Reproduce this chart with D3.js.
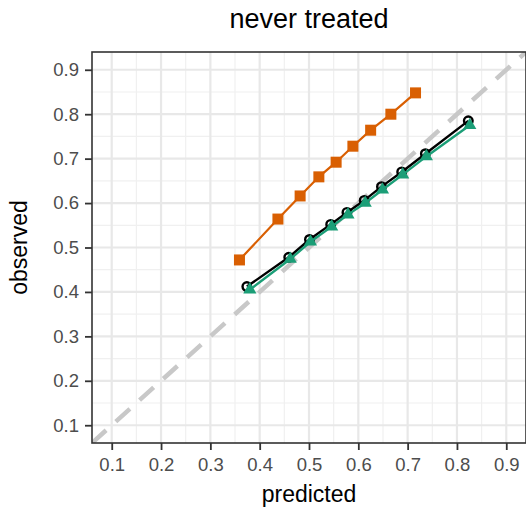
<!DOCTYPE html>
<html>
<head>
<meta charset="utf-8">
<script src="https://cdn.jsdelivr.net/npm/d3@7"></script>
<style>
  body { margin: 0; background: #fff; }
  text { font-family: "Liberation Sans", Arial, sans-serif; }
</style>
</head>
<body>
<div id="chart"></div>
<script>
const width = 526, height = 507;
const margin = {top: 52, right: 0, bottom: 64, left: 92};

// calibration deciles
const orangeX = [0.359, 0.437, 0.482, 0.520, 0.555, 0.589, 0.625, 0.666, 0.716];
const orangeY = [0.472, 0.564, 0.616, 0.659, 0.692, 0.728, 0.764, 0.800, 0.848];
const blackX = [0.374, 0.459, 0.501, 0.544, 0.577, 0.612, 0.647, 0.688, 0.736, 0.823];
const blackY = [0.412, 0.478, 0.518, 0.552, 0.579, 0.606, 0.637, 0.670, 0.711, 0.785];
const greenX = [0.380, 0.462, 0.503, 0.546, 0.579, 0.614, 0.649, 0.690, 0.738, 0.826];
const greenY = [0.405, 0.474, 0.513, 0.547, 0.574, 0.600, 0.630, 0.664, 0.705, 0.775];
const ticks = [0.1, 0.2, 0.3, 0.4, 0.5, 0.6, 0.7, 0.8, 0.9];
const minorTicks = [0.15, 0.25, 0.35, 0.45, 0.55, 0.65, 0.75, 0.85];

const svg = d3.select("#chart").append("svg")
    .attr("width", width)
    .attr("height", height);

const x = d3.scaleLinear().domain([0.06, 0.94]).range([margin.left, width - margin.right]);
const y = d3.scaleLinear().domain([0.06, 0.94]).range([height - margin.bottom, margin.top]);

svg.append("clipPath").attr("id", "panel")
  .append("rect")
    .attr("x", x(0.06)).attr("y", y(0.94))
    .attr("width", x(0.94) - x(0.06)).attr("height", y(0.06) - y(0.94));

const grid = svg.append("g");
grid.selectAll(".minx").data(minorTicks).enter().append("line")
    .attr("x1", d => x(d)).attr("x2", d => x(d))
    .attr("y1", y(0.06)).attr("y2", y(0.94))
    .attr("stroke", "#f0f0f0").attr("stroke-width", 1.2);
grid.selectAll(".miny").data(minorTicks).enter().append("line")
    .attr("y1", d => y(d)).attr("y2", d => y(d))
    .attr("x1", x(0.06)).attr("x2", x(0.94))
    .attr("stroke", "#f0f0f0").attr("stroke-width", 1.2);
grid.selectAll(".majx").data(ticks).enter().append("line")
    .attr("x1", d => x(d)).attr("x2", d => x(d))
    .attr("y1", y(0.06)).attr("y2", y(0.94))
    .attr("stroke", "#e8e8e8").attr("stroke-width", 2.2);
grid.selectAll(".majy").data(ticks).enter().append("line")
    .attr("y1", d => y(d)).attr("y2", d => y(d))
    .attr("x1", x(0.06)).attr("x2", x(0.94))
    .attr("stroke", "#e8e8e8").attr("stroke-width", 2.2);

const plot = svg.append("g").attr("clip-path", "url(#panel)");

// identity line
plot.append("line")
    .attr("x1", x(0.06)).attr("y1", y(0.06))
    .attr("x2", x(0.94)).attr("y2", y(0.94))
    .attr("stroke", "#c8c8c8").attr("stroke-width", 4.5)
    .attr("stroke-dasharray", "19,13");

const line = d3.line().x(d => x(d[0])).y(d => y(d[1]));
const orange = orangeX.map((v, i) => [v, orangeY[i]]);
const black = blackX.map((v, i) => [v, blackY[i]]);
const green = greenX.map((v, i) => [v, greenY[i]]);

plot.append("path").datum(orange).attr("d", line)
    .attr("fill", "none").attr("stroke", "#d95f02").attr("stroke-width", 2.2);
plot.selectAll(".sq").data(orange).enter().append("rect")
    .attr("x", d => x(d[0]) - 5.5).attr("y", d => y(d[1]) - 5.5)
    .attr("width", 11).attr("height", 11)
    .attr("fill", "#d95f02");

plot.append("path").datum(black).attr("d", line)
    .attr("fill", "none").attr("stroke", "#000").attr("stroke-width", 2.4);
plot.selectAll(".ci").data(black).enter().append("circle")
    .attr("cx", d => x(d[0])).attr("cy", d => y(d[1]))
    .attr("r", 4.3).attr("fill", "none")
    .attr("stroke", "#000").attr("stroke-width", 2.4);

plot.append("path").datum(green).attr("d", line)
    .attr("fill", "none").attr("stroke", "#1b9e77").attr("stroke-width", 2.4);
const tri = d3.symbol().type(d3.symbolTriangle).size(75);
plot.selectAll(".tr").data(green).enter().append("path")
    .attr("d", tri)
    .attr("transform", d => "translate(" + x(d[0]) + "," + y(d[1]) + ")")
    .attr("fill", "#1b9e77");

// panel border
svg.append("rect")
    .attr("x", x(0.06)).attr("y", y(0.94))
    .attr("width", x(0.94) - x(0.06)).attr("height", y(0.06) - y(0.94))
    .attr("fill", "none").attr("stroke", "#333").attr("stroke-width", 1.6);

const xAxis = svg.append("g")
    .attr("transform", "translate(0," + y(0.06) + ")")
    .call(d3.axisBottom(x).tickValues(ticks).tickSize(7).tickPadding(8).tickFormat(d3.format(".1f")));
const yAxis = svg.append("g")
    .attr("transform", "translate(" + x(0.06) + ",0)")
    .call(d3.axisLeft(y).tickValues(ticks).tickSize(7).tickPadding(6).tickFormat(d3.format(".1f")));
[xAxis, yAxis].forEach(a => {
  a.select(".domain").remove();
  a.selectAll(".tick line").attr("stroke", "#333").attr("stroke-width", 1.8);
  a.selectAll(".tick text").attr("fill", "#4d4d4d")
      .style("font-size", "18.5px").style("font-family", "Liberation Sans, Arial, sans-serif");
});

svg.append("text")
    .attr("x", (x(0.06) + x(0.94)) / 2).attr("y", 28)
    .attr("text-anchor", "middle")
    .style("font-size", "27px")
    .text("never treated");

svg.append("text")
    .attr("x", (x(0.06) + x(0.94)) / 2).attr("y", 502)
    .attr("text-anchor", "middle")
    .style("font-size", "23px")
    .text("predicted");

svg.append("text")
    .attr("transform", "translate(27," + (y(0.06) + y(0.94)) / 2 + ") rotate(-90)")
    .attr("text-anchor", "middle")
    .style("font-size", "23px")
    .text("observed");
</script>
</body>
</html>
